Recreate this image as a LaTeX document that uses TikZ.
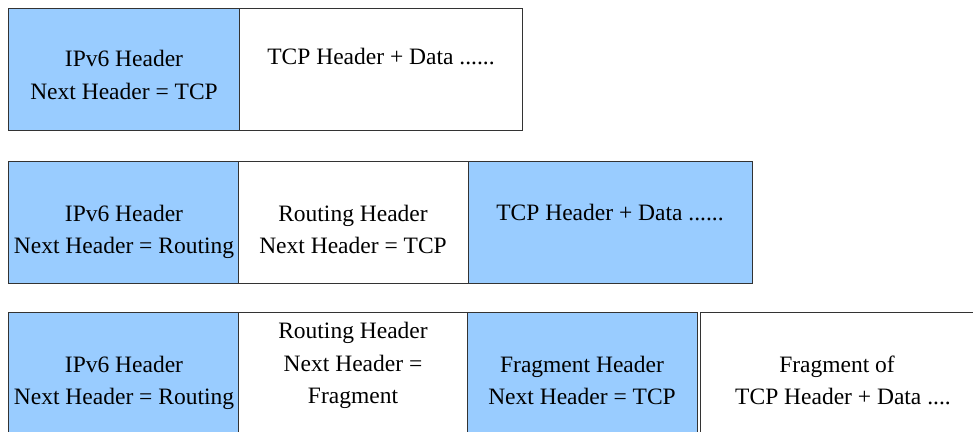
\documentclass[tikz,border=0pt]{standalone}
\usepackage{fontspec}
\setmainfont{LiberationSerif-Regular.ttf}
\newfontfamily\labelface{LiberationSerif-Regular.ttf}
\definecolor{hdrblue}{HTML}{99CCFF}
\definecolor{edgegray}{HTML}{333333}
\begin{document}
\begin{tikzpicture}[x=1pt,y=-1pt,
  cell/.style={draw=edgegray,line width=1.1pt,rectangle,inner sep=0pt,anchor=north west},
  blue/.style={cell,fill=hdrblue},
  plain/.style={cell,fill=white},
  lbl/.style={anchor=base,inner sep=0pt,font=\labelface\fontsize{23.5}{28}\selectfont}]
\useasboundingbox (0,0) rectangle (973,431);
\clip (0,0) rectangle (973,431);

% Row 1: IPv6 followed directly by TCP
\node[blue,minimum width=231pt,minimum height=122pt]  (r1a) at (8,8) {};
\node[plain,minimum width=283pt,minimum height=122pt] (r1b) at (239,8) {};
\node[lbl] (t1a) at (124,66.5) {IPv6 Header};
\node[lbl] (t1b) at (124,99) {Next Header = TCP};
\node[lbl] (t1c) at (381,64.5) {TCP Header + Data ......};

% Row 2: IPv6, Routing, TCP
\node[blue,minimum width=230pt,minimum height=122pt]  (r2a) at (8,161) {};
\node[plain,minimum width=230pt,minimum height=122pt] (r2b) at (238,161) {};
\node[blue,minimum width=284pt,minimum height=122pt]  (r2c) at (468,161) {};
\node[lbl] (t2a) at (124,221.5) {IPv6 Header};
\node[lbl] (t2b) at (124,253.5) {Next Header = Routing};
\node[lbl] (t2c) at (353,221.5) {Routing Header};
\node[lbl] (t2d) at (353,253.5) {Next Header = TCP};
\node[lbl] (t2e) at (610,220) {TCP Header + Data ......};

% Row 3: IPv6, Routing, Fragment, fragment of TCP
\node[blue,minimum width=230pt,minimum height=140pt]  (r3a) at (8,312) {};
\node[plain,minimum width=229pt,minimum height=140pt] (r3b) at (238,312) {};
\node[blue,minimum width=230pt,minimum height=140pt]  (r3c) at (467,312) {};
\node[plain,minimum width=300pt,minimum height=140pt] (r3d) at (700,312) {};
\node[lbl] (t3a) at (124,372) {IPv6 Header};
\node[lbl] (t3b) at (124,404) {Next Header = Routing};
\node[lbl] (t3c) at (353,338) {Routing Header};
\node[lbl] (t3d) at (353,371) {Next Header =};
\node[lbl] (t3e) at (353,403) {Fragment};
\node[lbl] (t3f) at (582,372) {Fragment Header};
\node[lbl] (t3g) at (582,404) {Next Header = TCP};
\node[lbl] (t3h) at (837,372) {Fragment of};
\node[lbl] (t3i) at (843,404) {TCP Header + Data ....};
\end{tikzpicture}
\end{document}
